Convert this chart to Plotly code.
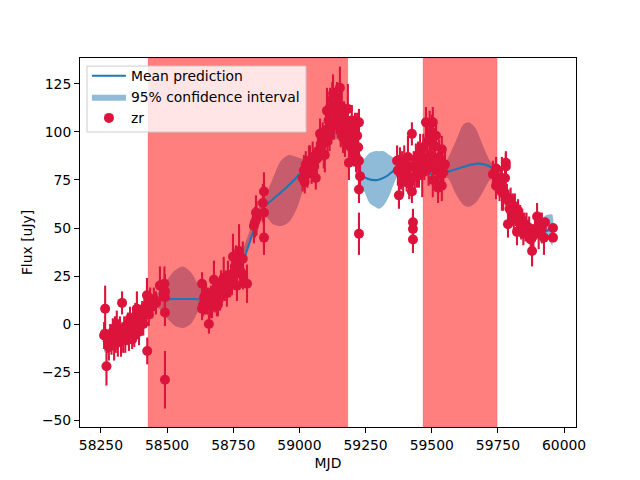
import plotly.graph_objects as go

# Gaussian-process mean prediction
mean_x = [58262, 58300, 58350, 58400, 58430, 58470, 58520, 58560, 58600, 58640, 58700, 58750, 58790, 58830, 58860, 58900, 58950, 59000, 59050, 59100, 59150, 59190, 59230, 59260, 59295, 59330, 59370, 59440, 59500, 59550, 59600, 59650, 59680, 59720, 59750, 59800, 59850, 59900, 59955]
mean_y = [-8, -6, -2, 4, 10, 12.5, 13, 13, 13, 13, 18, 25, 34, 50, 60, 65, 71, 78, 87, 97, 100, 90, 78, 75.5, 75, 77, 81, 80, 78, 79, 81, 83, 83.5, 82, 78, 65, 52, 47, 50]

# 95 % confidence interval, read as lower and upper edges
band_x = [58262, 58300, 58400, 58440, 58470, 58500, 58530, 58560, 58590, 58620, 58650, 58700, 58760, 58800, 58840, 58870, 58900, 58930, 58960, 58990, 59020, 59060, 59100, 59180, 59225, 59245, 59265, 59285, 59300, 59320, 59340, 59360, 59380, 59440, 59530, 59560, 59590, 59620, 59640, 59665, 59690, 59720, 59750, 59800, 59900, 59925, 59940, 59955]
band_lo = [-15, -8, 1, 10, 8, 3, -1, -2, 0, 7, 11, 16, 22, 37, 52, 56, 52, 51, 53, 60, 72, 83, 95, 95, 73, 69, 63, 61, 60, 62, 67, 74, 79, 79, 77, 76, 68, 62, 61, 63, 68, 75, 77, 64, 46, 43, 44, 41]
band_hi = [-3, -4, 7, 14, 17, 23, 28, 30, 27, 20, 15, 20, 30, 44, 59, 66, 76, 85, 88, 87, 86, 90, 99, 102, 84, 86, 89, 90, 90, 90, 88, 86, 83, 81, 80, 86, 95, 104, 105, 102, 94, 85, 80, 66, 50, 56, 57, 57]

# Shaded observing gaps
span_starts = [58428, 59467]
span_ends = [59183, 59747]

# zr photometry
zr_mjd = [58262, 58265, 58266, 58271, 58276, 58280, 58285, 58290, 58295, 58300, 58303, 58306, 58310, 58314, 58318, 58322, 58326, 58330, 58334, 58338, 58342, 58348, 58352, 58356, 58360, 58364, 58368, 58372, 58376, 58380, 58384, 58386, 58390, 58394, 58398, 58402, 58406, 58410, 58414, 58418, 58422, 58424, 58425, 58428, 58431, 58436, 58444, 58450, 58458, 58473, 58490, 58492, 58492, 58492, 58492,
          58632, 58632, 58636, 58640, 58643, 58647, 58650, 58654, 58658, 58662, 58666, 58670, 58674, 58677, 58680, 58684, 58688, 58692, 58696, 58700, 58704, 58708, 58714, 58718, 58722, 58726, 58730, 58738, 58745, 58749, 58752, 58756, 58760, 58764, 58772, 58775, 58780, 58786, 58787, 58802, 58828, 58832, 58838, 58836, 58862, 58866, 58866, 58866,
          59012, 59017, 59020, 59024, 59030, 59036, 59040, 59046, 59050, 59056, 59062, 59066, 59070, 59078, 59082, 59088, 59092, 59096, 59100, 59104, 59106, 59110, 59114, 59116, 59120, 59124, 59127, 59130, 59134, 59138, 59142, 59146, 59150, 59153, 59156, 59160, 59165, 59168, 59172, 59176, 59180, 59183, 59187, 59190, 59194, 59198, 59202, 59206, 59210, 59214, 59218, 59222, 59225, 59225, 59225, 59225, 59229,
          59369, 59372, 59376, 59380, 59384, 59388, 59392, 59396, 59400, 59405, 59410, 59415, 59420, 59425, 59425, 59429, 59429, 59429, 59432, 59436, 59440, 59444, 59448, 59452, 59456, 59460, 59464, 59468, 59472, 59478, 59480, 59484, 59488, 59492, 59496, 59500, 59504, 59504, 59508, 59512, 59516, 59520, 59524, 59528, 59532, 59538, 59538, 59544, 59550,
          59731, 59743, 59743, 59748, 59752, 59756, 59760, 59765, 59770, 59777, 59780, 59780, 59784, 59788, 59790, 59794, 59798, 59802, 59806, 59810, 59814, 59818, 59822, 59826, 59830, 59834, 59838, 59842, 59846, 59850, 59854, 59858, 59864, 59868, 59874, 59879, 59884, 59890, 59898, 59904, 59910, 59916, 59924, 59928, 59958, 59958]
zr_flux = [-6, -5, 8, -22, -9, -12, -7, -10, -4, -11, -2, -8, 0, -9, -6, -3, -9, 11, -7, -2, -8, -5, 0, -7, 3, -3, -8, 1, -6, 4, -2, 8, 2, -4, 5, 1, 6, 0, 7, 9, 5, 15, -14, 10, 5, 12, 9, 13, 11, 20, 21, 17, 14, 6, -29,
           21, 8, 10, 14, 13, 15, 11, 12, 0, 10, 14, 9, 17, 23, 13, 16, 11, 10, 18, 14, 20, 17, 24, 19, 22, 16, 25, 20, 22, 35, 27, 30, 33, 20, 38, 28, 27, 34, 25, 21, 51, 53, 55, 58, 63, 69, 58, 45,
           76, 80, 74, 83, 78, 85, 85, 79, 87, 82, 76, 86, 90, 99, 93, 97, 88, 88, 101, 111, 95, 106, 98, 113, 102, 117, 120, 105, 115, 110, 118, 104, 109, 123, 100, 113, 97, 108, 95, 103, 99, 112, 84, 100, 92, 106, 96, 90, 101, 87, 98, 92, 105, 70, 47, 85, 77,
           85, 80, 67, 84, 78, 83, 74, 85, 80, 76, 87, 73, 82, 99, 69, 53, 49.5, 44, 82, 77, 86, 80, 88, 78, 90, 83, 79, 92, 84, 105, 86, 95, 81, 97, 88, 100, 105, 75, 93, 85, 98, 80, 71, 87, 78, 72, 91, 79, 83,
           78, 81, 72, 76, 74, 70, 75, 73, 68, 76, 84, 82, 66, 52, 64, 60, 65, 58, 62, 55, 61, 57, 48, 59, 53, 56, 50, 54, 47, 52, 49, 51, 47, 50, 44, 38, 46, 49, 56, 48, 52, 50, 45, 53, 50, 45]
zr_err = [7, 6, 12, 10, 6, 7, 7, 6, 7, 8, 6, 7, 7, 8, 6, 7, 8, 6, 8, 6, 7, 6, 6, 7, 6, 7, 5, 8, 6, 7, 6, 9, 6, 7, 5, 7, 6, 6, 7, 6, 6, 9, 7, 6, 6, 7, 6, 6, 6, 10, 9, 9, 8, 7, 15,
          6, 6, 6, 7, 8, 6, 6, 7, 5, 7, 6, 6, 6, 10, 7, 6, 7, 6, 6, 7, 8, 6, 11, 7, 6, 7, 8, 6, 7, 12, 7, 7, 8, 8, 14, 8, 8, 9, 7, 10, 9, 8, 9, 9, 10, 10, 9, 9,
          7, 8, 6, 7, 7, 8, 8, 6, 8, 7, 6, 9, 8, 8, 8, 8, 7, 9, 9, 12, 8, 9, 8, 10, 8, 9, 10, 9, 8, 9, 8, 7, 8, 11, 8, 9, 8, 8, 8, 9, 8, 13, 9, 8, 9, 8, 9, 8, 9, 8, 12, 11, 7, 7,
          11, 8, 6, 8, 8, 7, 8, 8, 7, 7, 8, 6, 7, 11, 8, 6, 6, 6, 7, 8, 7, 8, 8, 8, 9, 7, 7, 9, 8, 13, 7, 9, 8, 9, 8, 9, 14, 7, 9, 8, 9, 7, 7, 8, 7, 8, 9, 7, 8,
          7, 8, 7, 7, 6, 7, 7, 7, 6, 7, 14, 9, 7, 6, 7, 7, 7, 6, 7, 6, 7, 6, 6, 7, 6, 7, 6, 6, 6, 6, 6, 6, 6, 6, 7, 4, 6, 7, 8, 6, 6, 7, 9, 6, 8, 9]

x_range = [58171, 60045]
y_range = [-53.6, 138.5]
x_ticks = [58250, 58500, 58750, 59000, 59250, 59500, 59750, 60000]
y_ticks = [-50, -25, 0, 25, 50, 75, 100, 125]

fig = go.Figure()

# confidence band, drawn first so the red spans tint it
fig.add_trace(go.Scatter(
    x=band_x + band_x[::-1], y=band_hi + band_lo[::-1],
    fill="toself", fillcolor="rgba(31,119,180,0.5)", mode="lines",
    line=dict(width=0, shape="spline", smoothing=0.8),
    name="95% confidence interval", legendrank=2))

for s, e in zip(span_starts, span_ends):
    fig.add_trace(go.Scatter(
        x=[s, e, e, s, s],
        y=[y_range[0], y_range[0], y_range[1], y_range[1], y_range[0]],
        fill="toself", fillcolor="rgba(255,0,0,0.5)", mode="lines",
        line=dict(width=1, color="rgba(255,0,0,0.15)"),
        showlegend=False, hoverinfo="skip"))

fig.add_trace(go.Scatter(
    x=mean_x, y=mean_y, mode="lines",
    line=dict(color="#1f77b4", width=2.1, shape="spline", smoothing=0.8),
    name="Mean prediction", legendrank=1))

fig.add_trace(go.Scatter(
    x=zr_mjd, y=zr_flux, mode="markers",
    marker=dict(color="crimson", size=10),
    error_y=dict(type="data", array=zr_err, color="crimson", thickness=2.1, width=0),
    name="zr", legendrank=3))

axis_common = dict(
    showgrid=False, zeroline=False, showline=True, mirror=True,
    linecolor="black", linewidth=1, ticks="outside", ticklen=5, tickwidth=1,
    tickcolor="black", tickfont=dict(size=13.9, color="black"),
)
fig.update_xaxes(range=x_range, tickmode="array", tickvals=x_ticks,
                 ticktext=[str(t) for t in x_ticks],
                 title=dict(text="MJD", font=dict(size=13.9, color="black"), standoff=6),
                 **axis_common)
fig.update_yaxes(range=y_range, tickmode="array", tickvals=y_ticks,
                 ticktext=[str(t).replace("-", "\u2212") for t in y_ticks],
                 title=dict(text="Flux [uJy]", font=dict(size=13.9, color="black"), standoff=6),
                 **axis_common)

fig.update_layout(
    width=640, height=480, autosize=False,
    margin=dict(l=72, r=72, t=50, b=61),
    paper_bgcolor="white", plot_bgcolor="white",
    font=dict(family="DejaVu Sans", size=13.9, color="black"),
    legend=dict(x=0.014, y=0.994, xanchor="left", yanchor="top",
                bgcolor="rgba(0,0,0,0)", borderwidth=0, itemwidth=34,
                font=dict(size=13.9), tracegroupgap=0, traceorder="normal"),
    shapes=[dict(type="rect", xref="paper", yref="paper", layer="above",
                 x0=0.0141, x1=0.4556, y0=0.7995, y1=0.978,
                 fillcolor="rgba(255,255,255,0.8)",
                 line=dict(color="#cccccc", width=1))],
)

fig.write_html("out.html")
